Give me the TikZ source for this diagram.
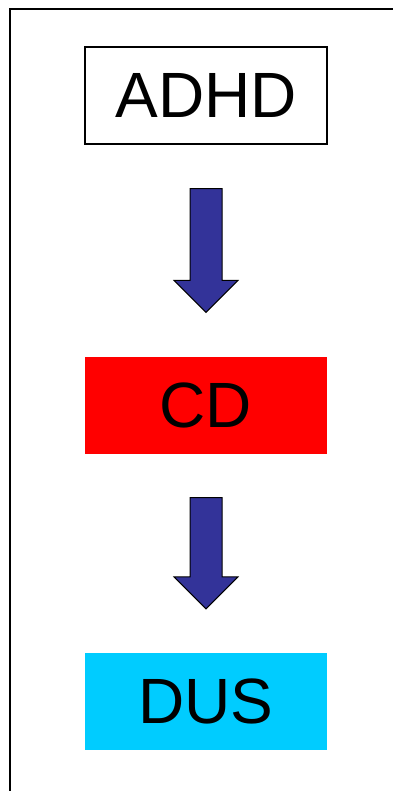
\documentclass[tikz,border=0pt]{standalone}
\usepackage{fontspec}
\setmainfont{Liberation Sans}
\usetikzlibrary{positioning, calc}

\definecolor{arrowblue}{HTML}{333399}
\definecolor{cdred}{HTML}{FF0000}
\definecolor{duscyan}{HTML}{00CCFF}

\begin{document}
\begin{tikzpicture}[x=1pt, y=-1pt]
    % --- Style Definitions ---
    \tikzset{
        % Frame lines at the left and top
        frame line/.style={
            draw=black,
            line width=2pt
        },
        % The three boxes
        stage box/.style={
            minimum width=242pt,
            minimum height=97pt,
            inner sep=0pt,
            font=\fontsize{64}{64}\selectfont,
            text=black
        },
        % Fat arrows between the boxes
        block arrow/.style={
            fill=arrowblue,
            draw=black,
            line width=1pt,
            line join=miter
        }
    }

    % --- 0. Canvas ---
    \useasboundingbox (0,0) rectangle (394,791);

    % --- 1. Frame ---
    \draw[frame line] (9.5,791) -- (9.5,9.5) -- (393,9.5);

    % --- 2. Boxes ---
    \node[stage box, draw=black, line width=1.5pt, fill=white] (adhd) at (206,95.5) {ADHD};
    \node[stage box, fill=cdred] (cd) at (206,405) {CD};
    \node[stage box, fill=duscyan] (dus) at (206,701.5) {DUS};

    % --- 3. Arrows ---
    \foreach \src/\dst in {adhd/cd, cd/dus} {
        \coordinate (\src top) at ($(\src.south)+(0,44)$);
        \coordinate (\src tip) at ($(\dst.north)+(0,-44)$);
        \draw[block arrow]
            ($(\src top)+(-16,0)$) -- ($(\src top)+(16,0)$)
            -- ($(\src tip)+(16,-32)$) -- ($(\src tip)+(32,-32)$)
            -- (\src tip)
            -- ($(\src tip)+(-32,-32)$) -- ($(\src tip)+(-16,-32)$)
            -- cycle;
    }

\end{tikzpicture}
\end{document}
